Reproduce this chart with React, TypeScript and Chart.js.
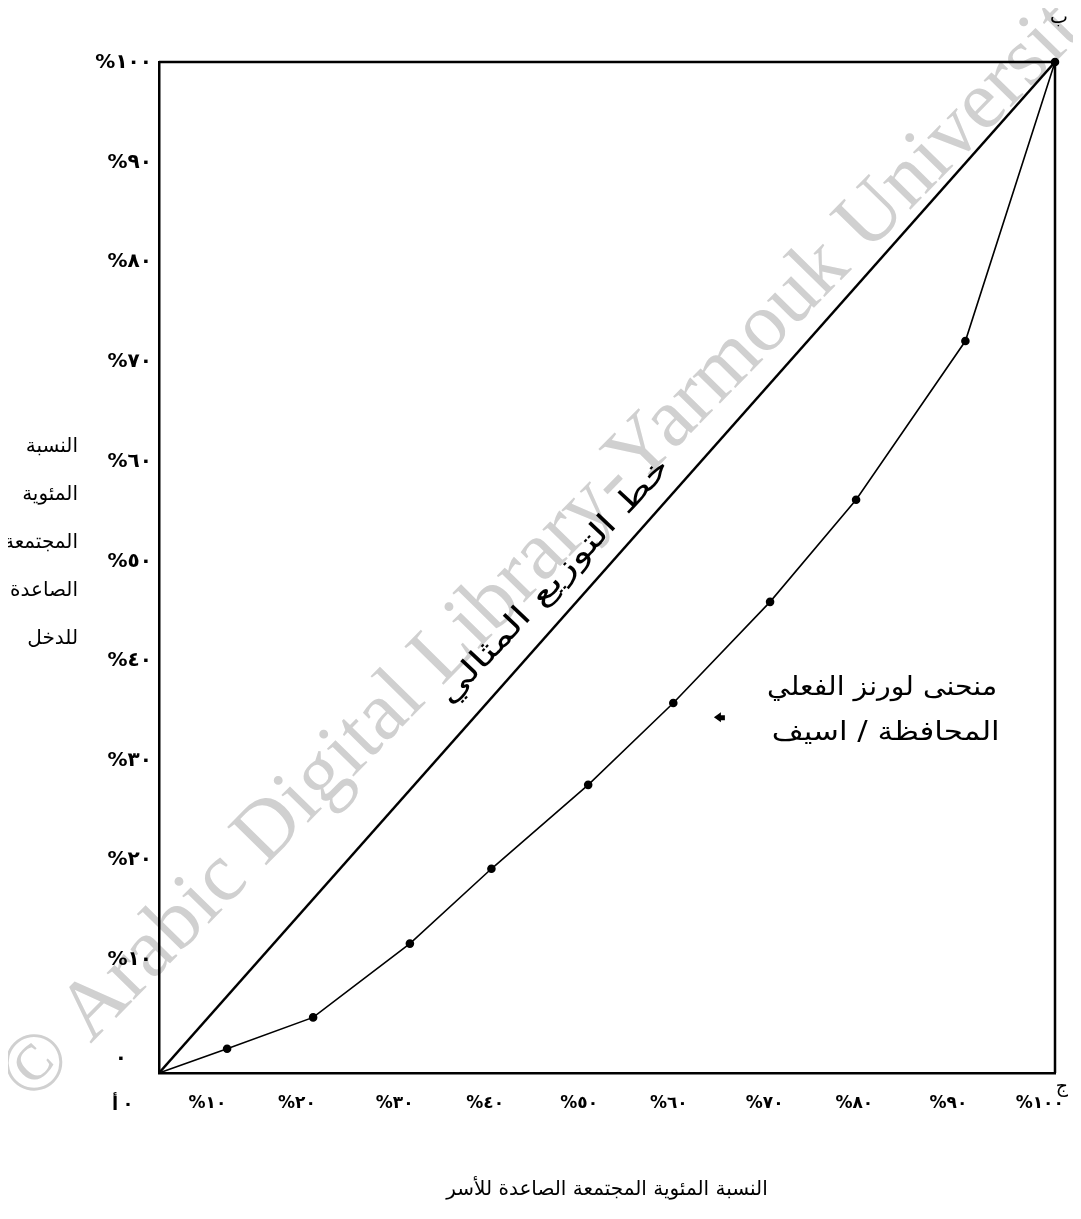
import React, { useEffect, useRef } from "react";
import { Chart, registerables } from "chart.js";

Chart.register(...registerables);

// ---- data ----
const xTickValues = [5.4, 15.4, 26.3, 36.4, 46.9, 56.9, 67.6, 77.6, 88.1, 98.3];
const xTickLabels = ["%١٠", "%٢٠", "%٣٠", "%٤٠", "%٥٠", "%٦٠", "%٧٠", "%٨٠", "%٩٠", "%١٠٠"];
const yTickValues = [1.4, 11.2, 21.1, 30.9, 40.8, 50.6, 60.5, 70.3, 80.2, 90.0, 99.9];
const yTickLabels = ["٠\u2003\u2005", "%١٠", "%٢٠", "%٣٠", "%٤٠", "%٥٠", "%٦٠", "%٧٠", "%٨٠", "%٩٠", "%١٠٠"];

const equalityX = [0, 100];
const equalityY = [0, 100];
const lorenzX = [0, 7.6, 17.2, 28.0, 37.1, 47.9, 57.4, 68.2, 77.8, 90.0, 100];
const lorenzY = [0, 2.4, 5.5, 12.8, 20.2, 28.5, 36.6, 46.6, 56.7, 72.4, 100];

const xTitle = "النسبة المئوية المجتمعة الصاعدة للأسر";
const yTitleLines = ["النسبة", "المئوية", "المجتمعة", "الصاعدة", "للدخل"];
const equalityLabel = "خط التوزيع المثالي";
const lorenzLabelLines = ["منحنى لورنز الفعلي", "المحافظة / اسيف"];
const watermarkText = "© Arabic Digital Library-Yarmouk University";

const AR_FONT = '"DejaVu Sans", "Noto Sans", sans-serif';

function stretchedText(ctx: any, text: string, cx: number, cy: number, targetW: number, angle: number) {
  ctx.save();
  ctx.translate(cx, cy);
  ctx.rotate(angle);
  const w = ctx.measureText(text).width;
  ctx.scale(targetW / w, 1);
  ctx.textAlign = "center";
  ctx.textBaseline = "middle";
  ctx.fillText(text, 0, 0);
  ctx.restore();
}

const annotationPlugin = {
  id: "annotations",
  beforeDraw(chart: any) {
    const { ctx, width, height } = chart;
    ctx.save();
    ctx.fillStyle = "#ffffff";
    ctx.fillRect(0, 0, width, height);
    // watermark
    ctx.translate(549, 530);
    ctx.rotate((-45.5 * Math.PI) / 180);
    ctx.font = '80px "Liberation Serif", serif';
    const w = ctx.measureText(watermarkText).width;
    const size = (80 * 1545) / w;
    ctx.font = `${size}px "Liberation Serif", serif`;
    ctx.fillStyle = "#d0d0d0";
    ctx.textAlign = "center";
    ctx.textBaseline = "middle";
    ctx.fillText(watermarkText, 0, 0);
    ctx.restore();
  },
  afterDraw(chart: any) {
    const { ctx, chartArea: a, scales } = chart;
    const x = scales.x;
    const y = scales.y;
    ctx.save();
    // top and right frame lines
    ctx.strokeStyle = "#000";
    ctx.lineWidth = 2.5;
    ctx.beginPath();
    ctx.moveTo(a.left, a.top);
    ctx.lineTo(a.right, a.top);
    ctx.lineTo(a.right, a.bottom);
    ctx.stroke();

    ctx.fillStyle = "#000";
    ctx.direction = "rtl";
    // y title (multi-line, right aligned)
    ctx.font = `20px ${AR_FONT}`;
    ctx.textAlign = "right";
    ctx.textBaseline = "middle";
    const y0 = y.getPixelForValue(61.9);
    yTitleLines.forEach((t, i) => ctx.fillText(t, 70, y0 + i * 48));

    // corner letters
    ctx.textAlign = "center";
    ctx.font = `19px ${AR_FONT}`;
    ctx.fillText("ب", a.right + 4, a.top - 44);
    ctx.fillText("ج", a.right + 7, a.bottom + 14);
    ctx.font = `bold 18px ${AR_FONT}`;
    ctx.fillText("أ", a.left - 44, a.bottom + 32);
    ctx.fillText("٠", a.left - 31, a.bottom + 32);

    // equality line label (hand-written, along the diagonal)
    ctx.font = `30px ${AR_FONT}`;
    stretchedText(ctx, equalityLabel, x.getPixelForValue(44.2), y.getPixelForValue(48.6), 325, (-47 * Math.PI) / 180);

    // lorenz curve label
    ctx.font = `26px ${AR_FONT}`;
    stretchedText(ctx, lorenzLabelLines[0], x.getPixelForValue(80.7), y.getPixelForValue(38.1), 230, 0);
    stretchedText(ctx, lorenzLabelLines[1], x.getPixelForValue(81.1), y.getPixelForValue(33.6), 228, 0);

    // small arrow pointing left
    const ax = x.getPixelForValue(62.6);
    const ay = y.getPixelForValue(35.2);
    ctx.beginPath();
    ctx.moveTo(ax - 6, ay);
    ctx.lineTo(ax + 1, ay - 5);
    ctx.lineTo(ax + 1, ay - 2);
    ctx.lineTo(ax + 5, ay - 2);
    ctx.lineTo(ax + 5, ay + 3);
    ctx.lineTo(ax + 1, ay + 3);
    ctx.lineTo(ax + 1, ay + 5);
    ctx.closePath();
    ctx.fill();
    ctx.restore();
  },
};

export default function App() {
  const ref = useRef<HTMLCanvasElement | null>(null);
  useEffect(() => {
    if (!ref.current) return;
    const chart = new Chart(ref.current, {
      type: "scatter",
      data: {
        datasets: [
          {
            label: "equality",
            data: equalityX.map((v, i) => ({ x: v, y: equalityY[i] })),
            showLine: true,
            borderColor: "#000",
            borderWidth: 2.6,
            pointRadius: 0,
          },
          {
            label: "lorenz",
            data: lorenzX.map((v, i) => ({ x: v, y: lorenzY[i] })),
            showLine: true,
            borderColor: "#000",
            borderWidth: 1.6,
            pointRadius: (c: any) => (c.dataIndex === 0 ? 0 : 3.5),
            pointBackgroundColor: "#000",
            pointBorderColor: "#000",
          },
        ],
      },
      options: {
        animation: false,
        responsive: false,
        devicePixelRatio: 1,
        clip: false,
        layout: { padding: { top: 54, right: 18, left: 0, bottom: 0 } },
        plugins: { legend: { display: false }, tooltip: { enabled: false } },
        scales: {
          x: {
            type: "linear",
            position: "bottom",
            min: 0,
            max: 100,
            afterBuildTicks: (s: any) => {
              s.ticks = xTickValues.map((v) => ({ value: v }));
            },
            afterFit: (s: any) => {
              s.height = 138;
              s.paddingLeft = 0;
              s.paddingRight = 0;
            },
            ticks: {
              autoSkip: false,
              maxRotation: 0,
              padding: 20,
              color: "#000",
              font: { family: AR_FONT, size: 17, weight: "bold" },
              callback: (_v: any, i: number) => xTickLabels[i],
            },
            grid: { color: "rgba(0,0,0,0)", drawTicks: false },
            border: { display: true, color: "#000", width: 2.5 },
            title: {
              display: true,
              text: xTitle,
              color: "#000",
              font: { family: AR_FONT, size: 20 },
              padding: { top: 0, bottom: 9 },
            },
          },
          y: {
            type: "linear",
            min: 0,
            max: 100,
            afterBuildTicks: (s: any) => {
              s.ticks = yTickValues.map((v) => ({ value: v }));
            },
            afterFit: (s: any) => {
              s.width = 151;
              s.paddingTop = 0;
              s.paddingBottom = 0;
            },
            ticks: {
              autoSkip: false,
              padding: 7,
              color: "#000",
              font: { family: AR_FONT, size: 20, weight: "bold" },
              callback: (_v: any, i: number) => yTickLabels[i],
            },
            grid: { color: "rgba(0,0,0,0)", drawTicks: false },
            border: { display: true, color: "#000", width: 2.5 },
          },
        },
      } as any,
      plugins: [annotationPlugin],
    });
    return () => chart.destroy();
  }, []);
  return (
    <div style={{ width: 1065, height: 1203 }}>
      <canvas ref={ref} width={1065} height={1203} style={{ display: "block", width: 1065, height: 1203 }} />
    </div>
  );
}
